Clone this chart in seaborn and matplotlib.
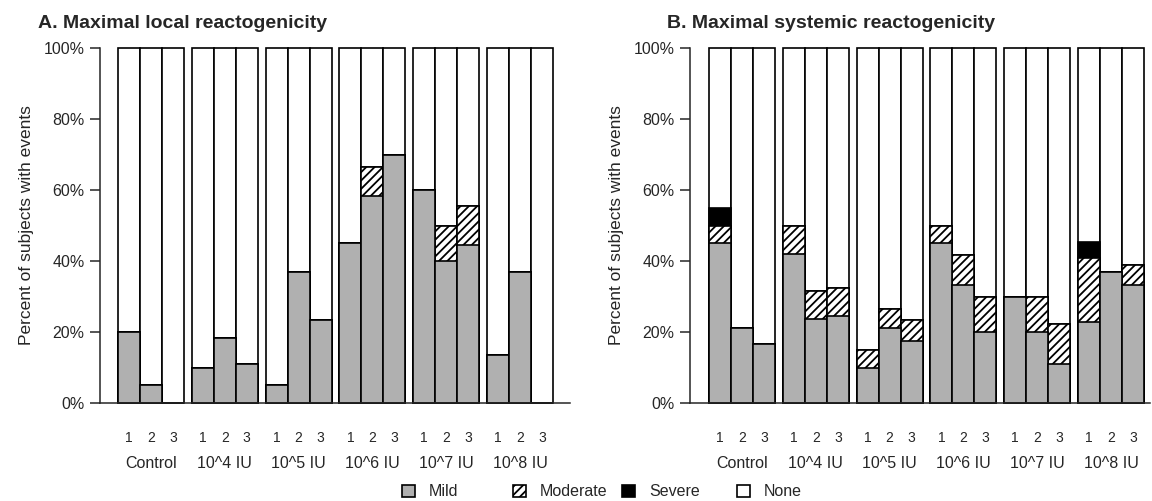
import pandas as pd
import matplotlib
matplotlib.use("Agg")
import matplotlib.pyplot as plt
from matplotlib.patches import Patch
from matplotlib.transforms import blended_transform_factory
import seaborn as sns

# dose groups and the three visits per group
GROUPS = ["Control", "10^4 IU", "10^5 IU", "10^6 IU", "10^7 IU", "10^8 IU"]
REPS = ["1", "2", "3"]

# A. local reactogenicity (% of subjects), 3 visits per group
LOCAL_MILD = [20, 5, 0, 10, 18.4, 11.1, 5, 36.8, 23.5, 45, 58.3, 70, 60, 40, 44.4, 13.6, 36.8, 0]
LOCAL_MOD = [0, 0, 0, 0, 0, 0, 0, 0, 0, 0, 8.3, 0, 0, 10, 11.1, 0, 0, 0]
LOCAL_SEV = [0] * 18

# B. systemic reactogenicity
SYS_MILD = [45, 21.1, 16.7, 42.1, 23.7, 24.4, 10, 21.1, 17.6, 45, 33.3, 20, 30, 20, 11.1, 22.7, 36.8, 33.3]
SYS_MOD = [5, 0, 0, 7.9, 7.9, 7.9, 5, 5.3, 5.9, 5, 8.3, 10, 0, 10, 11.1, 18.2, 0, 5.6]
SYS_SEV = [5, 0, 0, 0, 0, 0, 0, 0, 0, 0, 0, 0, 0, 0, 0, 4.5, 0, 0]

LEGEND_LABELS = ["Mild", "Moderate", "Severe", "None"]
GREY = "#b0b0b0"
GAP = 0.355  # space between dose groups, in bar widths


def build_frame(mild, moderate, severe):
    rows = []
    for k, (m, md, s) in enumerate(zip(mild, moderate, severe)):
        g, r = divmod(k, 3)
        rows.append({"group": GROUPS[g], "rep": REPS[r], "pos": g * (3 + GAP) + r,
                     "mild": m, "moderate": md, "severe": s})
    df = pd.DataFrame(rows)
    df["none_top"] = 100.0
    df["severe_top"] = df["mild"] + df["moderate"] + df["severe"]
    df["moderate_top"] = df["mild"] + df["moderate"]
    return df


def draw_panel(ax, df, xlim):
    # overlapping bars drawn tallest first -> stacked look
    layers = [("none_top", "white", None), ("severe_top", "black", None),
              ("moderate_top", "white", "////"), ("mild", GREY, None)]
    for col, color, hatch in layers:
        sns.barplot(data=df, x="pos", y=col, orient="x", native_scale=True, width=1,
                    color=color, saturation=1, edgecolor="black", linewidth=1.2,
                    hatch=hatch, errorbar=None, ax=ax, clip_on=False)
    ax.set_xlim(*xlim)
    ax.set_ylim(0, 100)
    ax.set_yticks(range(0, 101, 20))
    ax.set_yticklabels([f"{v}%" for v in range(0, 101, 20)], fontsize=11.5)
    ax.set_xticks(df["pos"])
    ax.set_xticklabels(df["rep"], fontsize=10)
    ax.tick_params(axis="x", length=0, pad=20)
    ax.tick_params(axis="y", length=7, width=1.1, pad=4)
    ax.set_xlabel("")
    ax.set_ylabel("Percent of subjects with events", fontsize=12.5, labelpad=7)
    sns.despine(ax=ax)
    for sp in ("left", "bottom"):
        ax.spines[sp].set_linewidth(1.1)
    trans = blended_transform_factory(ax.transData, ax.transAxes)
    for name, sub in df.groupby("group", sort=False):
        ax.text(sub["pos"].mean(), -0.17, name, transform=trans,
                ha="center", va="center", fontsize=11.5)


sns.set_style("ticks")
plt.rcParams["font.family"] = ["Liberation Sans", "DejaVu Sans"]
plt.rcParams["hatch.linewidth"] = 1.3

fig = plt.figure(figsize=(11.52, 5.01), dpi=100)
ax_a = fig.add_axes([100 / 1152, 98 / 501, 470 / 1152, 355 / 501])
ax_b = fig.add_axes([690 / 1152, 98 / 501, 460 / 1152, 355 / 501])

draw_panel(ax_a, build_frame(LOCAL_MILD, LOCAL_MOD, LOCAL_SEV), (-1.318, 20.05))
draw_panel(ax_b, build_frame(SYS_MILD, SYS_MOD, SYS_SEV), (-1.364, 19.55))

fig.text(38 / 1152, 1 - 28 / 501, "A. Maximal local reactogenicity",
         fontsize=14, fontweight="bold", va="baseline")
fig.text(667 / 1152, 1 - 28 / 501, "B. Maximal systemic reactogenicity",
         fontsize=14, fontweight="bold", va="baseline")

handles = [Patch(facecolor=GREY, edgecolor="black", linewidth=1.2),
           Patch(facecolor="white", edgecolor="black", hatch="////", linewidth=1.2),
           Patch(facecolor="black", edgecolor="black", linewidth=1.2),
           Patch(facecolor="white", edgecolor="black", linewidth=1.2)]
for x, h, lab in zip([402, 513, 622, 737], handles, LEGEND_LABELS):
    fig.legend([h], [lab], loc="center left", bbox_to_anchor=(x / 1152, 1 - 492 / 501),
               frameon=False, fontsize=11.5, handlelength=0.8, handleheight=0.8,
               handletextpad=0.9, borderpad=0, borderaxespad=0)

fig.savefig("out.png", dpi=100)
